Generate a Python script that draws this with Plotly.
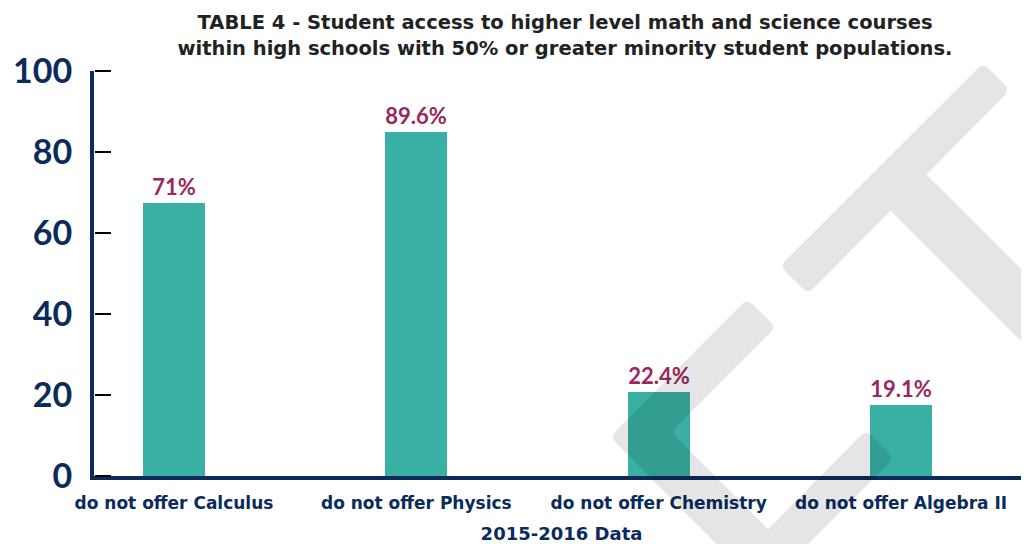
"""Table 4 bar chart: course access in high-minority high schools."""

import math

import plotly.graph_objects as go

NAVY = "#0b2b5c"
TEAL = "#3aafa3"
MAGENTA = "#9b2660"
INK = "#222222"

COURSES = [
    "do not offer Calculus",
    "do not offer Physics",
    "do not offer Chemistry",
    "do not offer Algebra II",
]
BAR_HEIGHTS = [67.5, 85.0, 20.7, 17.5]
BAR_LABELS = ["71%", "89.6%", "22.4%", "19.1%"]
Y_TICKS = [0, 20, 40, 60, 80, 100]

# the page body has an 8px margin, so the figure sits 8px in from the corner
OFF = 8
W, H = 1029 - OFF, 544 - OFF
L, R, T, B = 94 - OFF, 0, 71 - OFF, 68
PLOT_W, PLOT_H = W - L - R, H - T - B


def px_to_paper(x, y):
    # x, y are window pixels
    return (x - OFF - L) / PLOT_W, (H - B - (y - OFF)) / PLOT_H


def _toward(p, q, r):
    dx, dy = q[0] - p[0], q[1] - p[1]
    d = math.hypot(dx, dy)
    return p[0] + dx / d * r, p[1] + dy / d * r


def rounded_poly(points, r=8):
    n = len(points)
    parts = []
    for i in range(n):
        prev, cur, nxt = points[i - 1], points[i], points[(i + 1) % n]
        a = px_to_paper(*_toward(cur, prev, r))
        b = px_to_paper(*_toward(cur, nxt, r))
        c = px_to_paper(*cur)
        parts.append(("M" if i == 0 else "L") + f"{a[0]:.4f},{a[1]:.4f}")
        parts.append(f"Q{c[0]:.4f},{c[1]:.4f} {b[0]:.4f},{b[1]:.4f}")
    return " ".join(parts) + " Z"


# background logo watermark, outlined in window pixels
WATERMARK = [
    # crossbar
    [(780, 266), (983, 63), (1010, 90), (808, 294)],
    # stem
    [(912, 160), (1200, 448), (1200, 520), (875, 195)],
    # chevron
    [(747, 299), (776, 327), (671, 432), (840, 601), (773, 601), (610, 437)],
    # right stroke
    [(866, 430), (894, 458), (747, 605), (693, 605)],
]

fig = go.Figure(
    go.Bar(
        x=COURSES,
        y=BAR_HEIGHTS,
        text=BAR_LABELS,
        textposition="outside",
        cliponaxis=False,
        width=0.255,
        marker={"color": TEAL, "line": {"width": 0}},
        textfont={"color": MAGENTA, "size": 22, "family": "Lato", "weight": 700},
        hoverinfo="skip",
    )
)
# empty helper trace so the tick-only overlay axis gets drawn
fig.add_trace(
    go.Scatter(x=[COURSES[0]], y=[None], yaxis="y2", mode="markers",
               hoverinfo="skip", showlegend=False)
)

fig.add_shape(
    type="path",
    path=" ".join(rounded_poly(p) for p in WATERMARK),
    xref="paper",
    yref="paper",
    fillcolor="black",
    opacity=0.1,
    fillrule="nonzero",
    line={"width": 0},
    layer="above",
)

fig.update_layout(
    width=W,
    height=H,
    margin={"l": L, "r": R, "t": T, "b": B},
    paper_bgcolor="white",
    plot_bgcolor="white",
    showlegend=False,
    bargap=0,
    title={
        "text": "TABLE 4 - Student access to higher level math and science courses"
        "<br>within high schools with 50% or greater minority student populations.",
        "x": (565 - OFF) / W,
        "xanchor": "center",
        "y": 0.96,
        "yanchor": "top",
        "font": {"family": "DejaVu Sans", "size": 19.5, "color": INK, "weight": 700},
    },
    font={"family": "Lato", "color": NAVY},
    yaxis2={
        "range": [0, 100],
        "tickvals": Y_TICKS,
        "overlaying": "y",
        "side": "right",
        "anchor": "free",
        "position": 0,
        "automargin": False,
        "ticks": "outside",
        "ticklen": 16,
        "tickwidth": 2,
        "tickcolor": "black",
        "showticklabels": False,
        "showline": False,
        "showgrid": False,
        "zeroline": False,
    },
)

fig.update_xaxes(
    type="category",
    range=[-0.330, 3.528],
    automargin=False,
    showline=True,
    linewidth=4,
    linecolor=NAVY,
    ticks="",
    showgrid=False,
    ticklabelstandoff=9,
    tickfont={"family": "DejaVu Sans", "size": 17, "color": NAVY, "weight": 700},
    title={
        "text": "2015-2016 Data",
        "standoff": 26,
        "font": {"family": "DejaVu Sans", "size": 18, "color": NAVY, "weight": 700},
    },
)

fig.update_layout(
    yaxis={
        "range": [0, 100],
        "tickvals": Y_TICKS,
        "automargin": False,
        "showline": True,
        "linewidth": 4,
        "linecolor": NAVY,
        "ticks": "",
        "showgrid": False,
        "zeroline": False,
        "ticklabelstandoff": 11,
        "tickfont": {"family": "Lato", "size": 34, "color": NAVY, "weight": 700},
    }
)

fig.write_html("out.html")
